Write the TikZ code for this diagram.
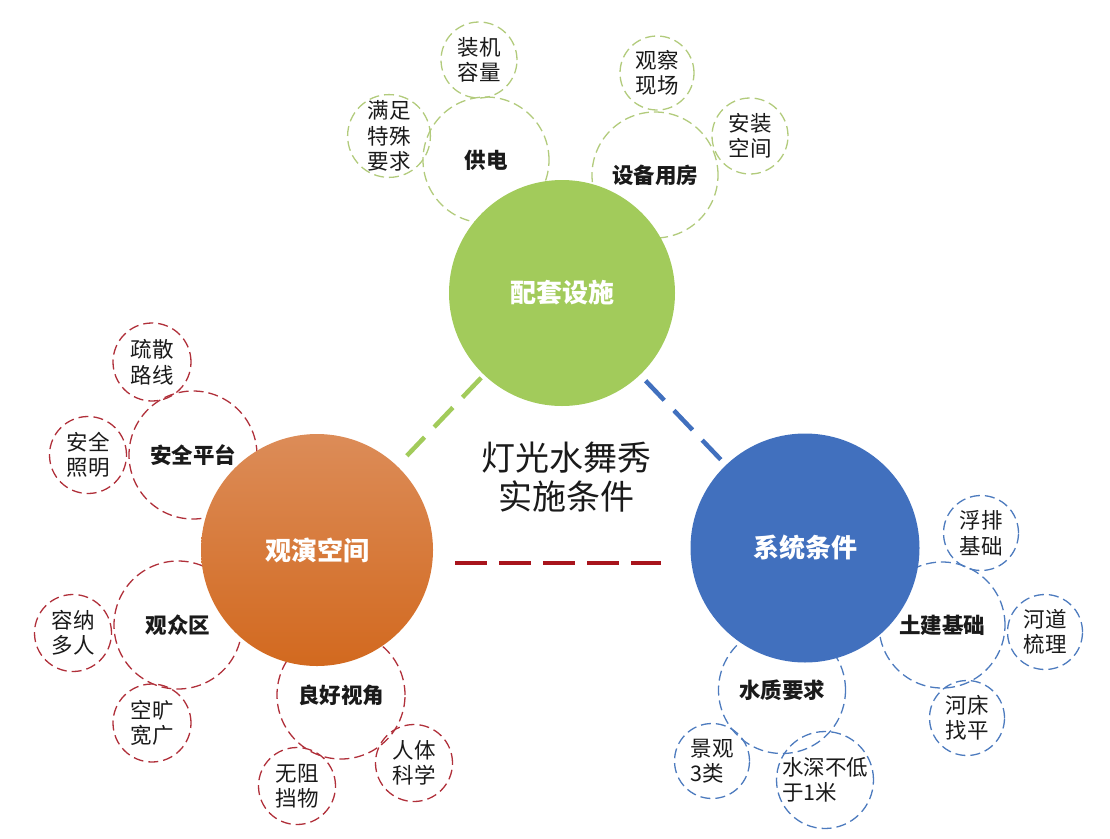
\documentclass[tikz,border=0pt]{standalone}
\usepackage{fontspec}
\setmainfont{Noto Sans CJK SC}
\usetikzlibrary{shadings}
\definecolor{mgreen}{HTML}{A2CB5B}
\definecolor{mblue}{HTML}{4170BE}
\definecolor{morangeT}{HTML}{DC8C58}
\definecolor{morangeB}{HTML}{D2691F}
\definecolor{lgreen}{HTML}{B2CB7C}
\definecolor{lred}{HTML}{B0303A}
\definecolor{lblue}{HTML}{4D7BBE}
\definecolor{dred}{HTML}{A8141C}
\definecolor{txt}{HTML}{1A1A1A}
\tikzset{
  maincirc/.style={circle, inner sep=0pt, minimum size=#1, text=white, font=\fontsize{26}{30}\selectfont\bfseries},
  midcirc/.style={circle, draw, dash pattern=on 10pt off 5pt, line width=1.3pt, inner sep=0pt, minimum size=#1, text=txt, font=\fontsize{21.5}{25}\selectfont\bfseries},
  subcirc/.style={circle, draw, dash pattern=on 10pt off 5pt, line width=1.3pt, inner sep=0pt, minimum size=#1, text=txt, align=center, font=\fontsize{21.5}{25.5}\selectfont},
  gline/.style={line width=4.5pt, dash pattern=on 27pt off 14pt},
}
\begin{document}
\begin{tikzpicture}[x=1pt,y=-1pt]
\useasboundingbox (0,0) rectangle (1110,838);
% top group (green)
\begin{scope}[every node/.append style={draw=lgreen}]
\node[midcirc=126pt] (gd) at (486,160) {供电};
\node[midcirc=126pt] (sb) at (655,175) {设备用房};
\node[subcirc=76pt] (zj) at (479,60) {装机\\容量};
\node[subcirc=76pt] (mz) at (389,136) {满足\\特殊\\要求};
\node[subcirc=74pt] (gc) at (657,73) {观察\\现场};
\node[subcirc=76pt] (az) at (750,136) {安装\\空间};
\end{scope}
% left group (red)
\begin{scope}[every node/.append style={draw=lred}]
\node[midcirc=128pt] (aq) at (193,455) {安全平台};
\node[subcirc=78pt] (ss) at (152,362) {疏散\\路线};
\node[subcirc=77pt] (zm) at (88,455) {安全\\照明};
\node[midcirc=128pt] (gz) at (178,625) {观众区};
\node[subcirc=77pt] (rn) at (73,633) {容纳\\多人};
\node[subcirc=78pt] (kk) at (152,723) {空旷\\宽广};
\node[midcirc=128pt] (lh) at (341,695) {良好视角};
\node[subcirc=77pt] (wz) at (297,786) {无阻\\挡物};
\node[subcirc=77pt] (rt) at (414,763) {人体\\科学};
\end{scope}
% right group (blue)
\begin{scope}[every node/.append style={draw=lblue}]
\node[midcirc=126pt] (tj) at (942,625) {土建基础};
\node[subcirc=75pt] (fp) at (981,533) {浮排\\基础};
\node[subcirc=75pt] (hd) at (1045,632) {河道\\梳理};
\node[subcirc=75pt] (hc) at (967,718) {河床\\找平};
\node[midcirc=127pt] (sz) at (782,690) {水质要求};
\node[subcirc=75pt, align=left] (jg) at (712,761) {景观\\3类};
\node[subcirc=75pt, align=left] (ss1) at (825,780) {水深不低\\于1米};
\end{scope}
% main circles
\node[maincirc=226pt, fill=mgreen] (pt) at (562,293) {配套设施};
\node[maincirc=232pt, top color=morangeT, bottom color=morangeB] (gy) at (317,550) {观演空间};
\node[maincirc=229pt, fill=mblue] (xt) at (805,548) {系统条件};
% connectors
\draw[gline, mgreen, shorten <=4pt, shorten >=14pt] (pt) -- (gy);
\draw[gline, mblue, shorten <=8pt, shorten >=6pt] (pt) -- (xt);
\draw[gline, dred, dash pattern=on 32pt off 12pt] ([yshift=-13pt]gy.east) ++(22,0) coordinate (r1) -- ([xshift=-29pt]r1 -| xt.west);
% center title
\node[font=\fontsize{34}{39}\selectfont, text=txt, align=center] (title) at (566,477) {灯光水舞秀\\实施条件};
\end{tikzpicture}
\end{document}
